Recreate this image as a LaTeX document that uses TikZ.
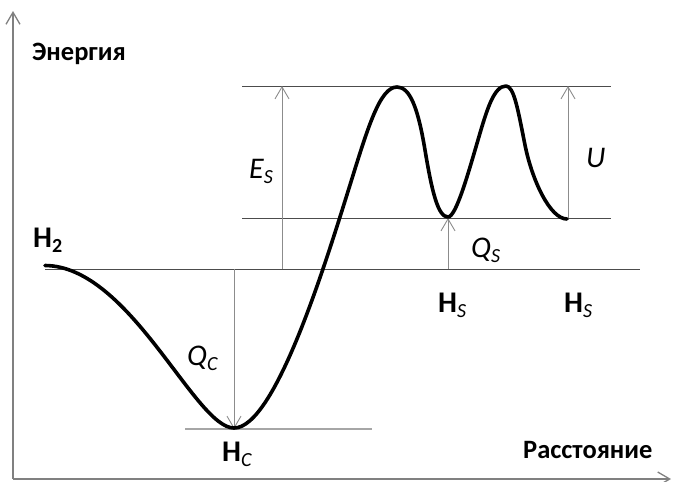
\documentclass[tikz,border=0pt]{standalone}
\usepackage{fontspec}
\setmainfont{Carlito}
\usetikzlibrary{arrows.meta}
\newcommand\lowsub[1]{\raisebox{-5pt}{\fontsize{20}{20}\selectfont #1}}
\tikzset{
  lbl/.style={anchor=base west, inner sep=0pt, font=\fontsize{30}{32}\selectfont},
  axlbl/.style={anchor=base west, inner sep=0pt, font=\fontsize{26.5}{30}\selectfont\bfseries},
  axisline/.style={draw=black!50, line width=1.3pt, -{Straight Barb[length=12pt,width=14pt]}},
  level/.style={draw=black!70, line width=1pt},
  lowlevel/.style={draw=black!35, line width=1.3pt},
  gap/.style={draw=black!45, line width=0.9pt, -{Straight Barb[length=12pt,width=14pt]}},
  curve/.style={draw=black, line width=3.6pt, line cap=round, line join=round}
}
\begin{document}
\begin{tikzpicture}[x=1pt,y=-1pt]
\useasboundingbox (0,0) rectangle (673,482);
% axes
\coordinate (O) at (13,479);
\coordinate (Ytip) at (13,11);
\coordinate (Xtip) at (671,479);
\draw[axisline] (O) -- (Ytip);
\draw[axisline] (O) -- (Xtip);
% levels
\coordinate (topL) at (242,86);   \coordinate (topR) at (611,86);
\coordinate (midL) at (242,218);  \coordinate (midR) at (611,218);
\coordinate (baseL) at (45,269);  \coordinate (baseR) at (640,269);
\coordinate (lowL) at (185,429);  \coordinate (lowR) at (372,429);
\draw[level] (topL) -- (topR);
\draw[level] (midL) -- (midR);
\draw[level] (baseL) -- (baseR);
\draw[lowlevel] (lowL) -- (lowR);
% gap arrows
\coordinate (EsB) at (282,269); \coordinate (EsT) at (282,86);
\coordinate (QcT) at (234,269); \coordinate (QcB) at (234,429);
\coordinate (QsB) at (448,269); \coordinate (QsT) at (448,218);
\coordinate (UB) at (568,218);  \coordinate (UT) at (568,86);
\draw[gap] (EsB) -- (EsT);
\draw[gap] (QcT) -- (QcB);
\draw[gap] (QsB) -- (QsT);
\draw[gap] (UB) -- (UT);
% potential curve
\coordinate (c0) at (45,265.5);
\coordinate (cMin) at (234,428);
\coordinate (cI1) at (350,185);
\coordinate (cP1) at (397,87);
\coordinate (cI2) at (425,150);
\coordinate (cV) at (448,217);
\coordinate (cI3) at (478,140);
\coordinate (cP2) at (506,86);
\coordinate (cI4) at (525,145);
\coordinate (cEnd) at (567,219);
\draw[curve] (c0)
  .. controls (130,266) and (195,428) .. (cMin)
  .. controls (275,428) and (325,265) .. (cI1)
  .. controls (368,127) and (380,87) .. (cP1)
  .. controls (410,87) and (418,108) .. (cI2)
  .. controls (432,192) and (438,217) .. (cV)
  .. controls (456,217) and (468,174) .. (cI3)
  .. controls (487,109) and (494,86) .. (cP2)
  .. controls (514,86) and (518,110) .. (cI4)
  .. controls (532,180) and (550,219) .. (cEnd);
% labels
\node[axlbl] (en) at (32,60) {Энергия};
\node[axlbl] (ra) at (523,458) {Расстояние};
\node[lbl] (h2) at (33,247) {\textbf{H}\lowsub{\textbf{2}}};
\node[lbl] (hs1) at (438,312) {\textbf{H}\lowsub{\itshape S}};
\node[lbl] (hs2) at (564,312) {\textbf{H}\lowsub{\itshape S}};
\node[lbl] (hc) at (222,461) {\textbf{H}\lowsub{\itshape C}};
\node[lbl] (es) at (249,178) {\itshape E\lowsub{S}};
\node[lbl] (u) at (586,167) {\itshape U};
\node[lbl] (qs) at (471,257) {\itshape Q\lowsub{S}};
\node[lbl] (qc) at (187,365) {\itshape Q\lowsub{C}};
\end{tikzpicture}
\end{document}
